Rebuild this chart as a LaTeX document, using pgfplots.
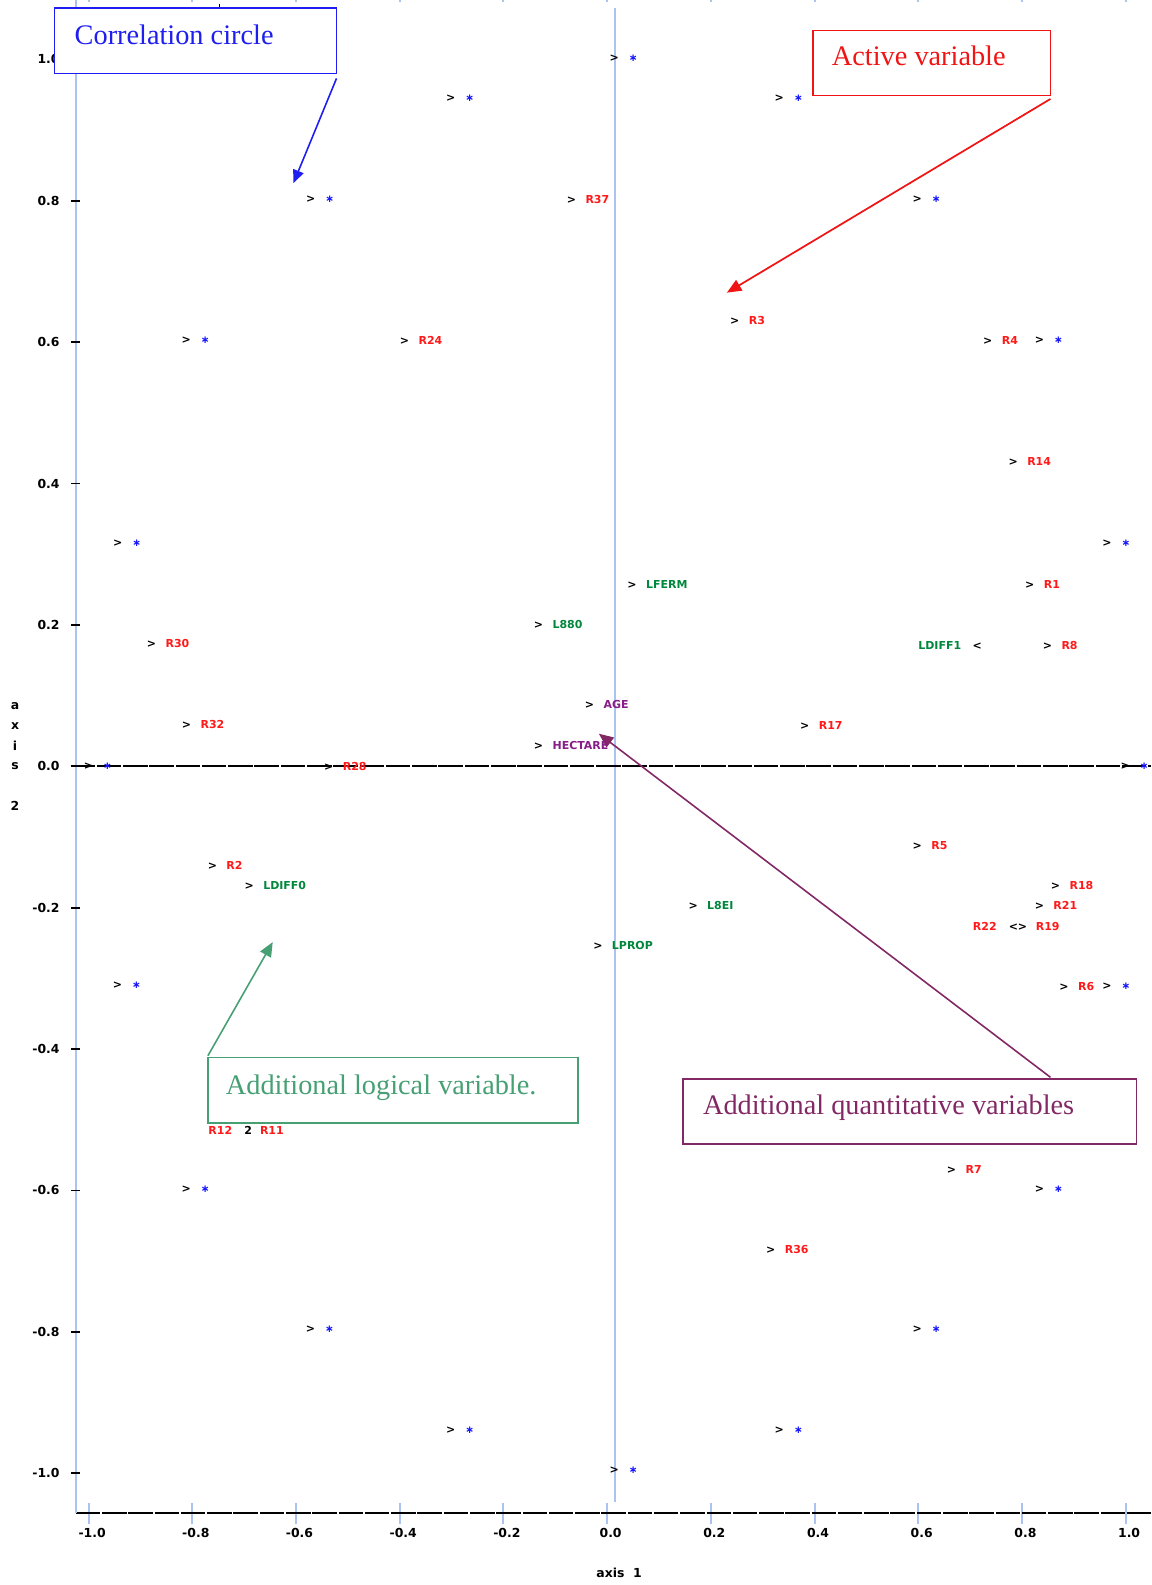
\documentclass[border=0pt]{standalone}
\usepackage{fontspec}
\usepackage{pgfplots}
\pgfplotsset{compat=1.18}
\usetikzlibrary{arrows.meta}
\setmainfont{Liberation Serif}
\newfontfamily\labf{DejaVu Sans}
\newcommand\lab{\labf\bfseries\fontsize{3.8}{4.2}\selectfont}
\newcommand\tickf{\labf\bfseries\fontsize{4.3}{5}\selectfont}
\newcommand\annf{\fontsize{9.8}{11}\selectfont}
\newcommand\cstar{{\fontsize{3.6}{3.6}\selectfont\textcolor{ptblue}{∗}}}
\definecolor{labred}{RGB}{255,25,25}
\definecolor{labgreen}{RGB}{0,135,60}
\definecolor{labpurple}{RGB}{135,30,135}
\definecolor{ptblue}{RGB}{20,20,255}
\definecolor{axblue}{RGB}{170,195,240}
\definecolor{boxblue}{RGB}{30,30,240}
\definecolor{boxred}{RGB}{240,20,20}
\definecolor{boxgreen}{RGB}{70,160,115}
\definecolor{boxpurple}{RGB}{130,40,100}
\pgfplotsset{
  lbl/.style={draw=none, mark=none, point meta=explicit symbolic,
    nodes near coords={\textcolor{black}{>}\hspace{3.3pt}\pgfplotspointmeta},
    every node near coord/.append style={anchor=west, inner sep=0pt, xshift=-1.6pt, font=\lab, text=#1}},
}
\begin{document}
\begin{tikzpicture}
\begin{axis}[
  set layers,
  scale only axis, width=372.4pt, height=523.95pt,
  xmin=-1.025, xmax=1.0495, ymin=-1.0568, ymax=1.084,
  axis lines=left,
  axis line style={-},
  x axis line style={black, line width=0.6pt, dash pattern=on 8.5pt off 0.6pt},
  y axis line style={axblue, line width=0.7pt},
  xtick={-1,-0.8,-0.6,-0.4,-0.2,0,0.2,0.4,0.6,0.8,1},
  xticklabels={-1.0,-0.8,-0.6,-0.4,-0.2,0.0,0.2,0.4,0.6,0.8,1.0},
  ytick={-1,-0.8,-0.6,-0.4,-0.2,0,0.2,0.4,0.6,0.8,1},
  yticklabels={-1.0,-0.8,-0.6,-0.4,-0.2,0.0,0.2,0.4,0.6,0.8,1.0},
  tick align=center, major tick length=7.3pt,
  x tick style={axblue, line width=0.7pt},
  y tick style={draw=none},
  xticklabel style={font=\tickf, inner sep=0pt, anchor=north, yshift=-1.25pt, xshift=1.2pt},
  yticklabel style={font=\tickf, inner sep=0pt, anchor=east, xshift=-1.75pt},
  clip=false,
]
% reference lines
\draw[axblue, line width=0.7pt] (axis cs:0.016,1.073) -- (axis cs:0.016,-1.041);
\draw[black, line width=0.6pt, dash pattern=on 8.5pt off 0.6pt] (axis cs:-1.035,0) -- (axis cs:1.0495,0);
\pgfplotsinvokeforeach{-1,-0.8,-0.6,-0.4,-0.2,0,0.2,0.4,0.6,0.8,1}{
  \draw[black, line width=0.6pt] (axis cs:-1.034,#1) -- (axis cs:-1.017,#1);
  \draw[axblue, line width=0.7pt] (axis cs:#1,1.084) -- (axis cs:#1,1.0805);
}
\draw[black, line width=0.5pt] (axis cs:-0.7475,1.0786) -- (axis cs:-0.7475,1.039);

% correlation circle points
\addplot[draw=none, mark=none, point meta=explicit symbolic,
  nodes near coords={>\hspace{3.5pt}\cstar},
  every node near coord/.append style={anchor=west, inner sep=0pt, xshift=-1.6pt, font=\lab, text=black}]
table[meta=lab] {
x y lab
0.0127 1.002 c
-0.303 0.945 c
0.331 0.945 c
-0.573 0.802 c
0.597 0.802 c
-0.813 0.602 c
0.8325 0.602 c
-0.945 0.316 c
0.963 0.316 c
-1.0015 0.0 c
0.998 0.0 c
-0.9455 -0.310 c
0.963 -0.311 c
-0.813 -0.598 c
0.8325 -0.598 c
-0.5735 -0.797 c
0.597 -0.797 c
-0.303 -0.939 c
0.331 -0.939 c
0.0127 -0.996 c
};

% active variables
\addplot[lbl=labred] table[meta=lab] {
x y lab
-0.070 0.802 R37
0.245 0.631 R3
-0.392 0.602 R24
0.733 0.602 R4
0.782 0.431 R14
0.814 0.257 R1
-0.880 0.173 R30
0.848 0.171 R8
-0.8125 0.0586 R32
0.380 0.057 R17
-0.538 0.0 R28
0.597 -0.1117 R5
-0.7625 -0.140 R2
0.8636 -0.168 R18
0.8325 -0.197 R21
0.880 -0.311 R6
0.663 -0.570 R7
0.3145 -0.6835 R36
};

% additional logical variables
\addplot[lbl=labgreen] table[meta=lab] {
x y lab
0.047 0.257 LFERM
-0.1335 0.200 L880
-0.6915 -0.168 LDIFF0
0.1647 -0.197 L8EI
-0.019 -0.254 LPROP
};

% additional quantitative variables
\addplot[lbl=labpurple] table[meta=lab] {
x y lab
-0.035 0.087 AGE
-0.1335 0.030 HECTARE
};

% special labels
\addplot[draw=none, mark=none,
  nodes near coords={\textcolor{labgreen}{LDIFF1}\hspace{4pt}<},
  every node near coord/.append style={anchor=east, inner sep=0pt, xshift=1.6pt, font=\lab, text=black}]
coordinates {(0.715,0.171)};
\addplot[draw=none, mark=none,
  nodes near coords={\textcolor{labred}{R22}\hspace{4.2pt}<>\hspace{3pt}\textcolor{labred}{R19}},
  every node near coord/.append style={anchor=center, inner sep=0pt, font=\lab, text=black}]
coordinates {(0.789,-0.226)};
\addplot[draw=none, mark=none,
  nodes near coords={\textcolor{labred}{R12}\hspace{4.2pt}2\hspace{2.8pt}\textcolor{labred}{R11}},
  every node near coord/.append style={anchor=center, inner sep=0pt, font=\lab, text=black}]
coordinates {(-0.6964,-0.5145)};

% axis titles
\node[font=\tickf, inner sep=0pt] at (axis cs:0.023,-1.1415) {axis\hspace{3pt}1};
\node[font=\tickf, inner sep=0pt] at (axis cs:-1.142,0.0857) {a};
\node[font=\tickf, inner sep=0pt] at (axis cs:-1.142,0.057) {x};
\node[font=\tickf, inner sep=0pt] at (axis cs:-1.142,0.0286) {i};
\node[font=\tickf, inner sep=0pt] at (axis cs:-1.142,0) {s};
\node[font=\tickf, inner sep=0pt] at (axis cs:-1.142,-0.0566) {2};

% annotation boxes
\draw[boxblue, line width=0.55pt, fill=white] (axis cs:-1.066,1.073) rectangle (axis cs:-0.522,0.980);
\node[anchor=base west, inner sep=0pt, font=\annf, text=boxblue] at (axis cs:-1.028,1.021) {Correlation circle};
\draw[boxblue, line width=0.55pt, -{Triangle[length=4.5pt,width=3.8pt]}] (axis cs:-0.522,0.973) -- (axis cs:-0.605,0.825);

\draw[boxred, line width=0.55pt, fill=white] (axis cs:0.397,1.041) rectangle (axis cs:0.855,0.9486);
\node[anchor=base west, inner sep=0pt, font=\annf, text=boxred] at (axis cs:0.4325,0.991) {Active variable};
\draw[boxred, line width=0.6pt, -{Triangle[length=5pt,width=4.2pt]}] (axis cs:0.855,0.944) -- (axis cs:0.231,0.670);

\draw[boxgreen, line width=0.55pt, fill=white] (axis cs:-0.770,-0.4118) rectangle (axis cs:-0.0566,-0.5048);
\node[anchor=base west, inner sep=0pt, font=\annf, text=boxgreen] at (axis cs:-0.7363,-0.464) {Additional logical variable.};
\draw[boxgreen, line width=0.55pt, -{Triangle[length=5pt,width=4.2pt]}] (axis cs:-0.770,-0.4095) -- (axis cs:-0.645,-0.2487);

\draw[boxpurple, line width=0.55pt, fill=white] (axis cs:0.146,-0.442) rectangle (axis cs:1.021,-0.5346);
\node[anchor=base west, inner sep=0pt, font=\annf, text=boxpurple] at (axis cs:0.184,-0.492) {Additional quantitative variables};
\draw[boxpurple, line width=0.55pt, -{Triangle[length=5pt,width=4.2pt]}] (axis cs:0.855,-0.440) -- (axis cs:-0.016,0.046);

\coordinate (BL) at (axis cs:-1.171,-1.1582);
\coordinate (TR) at (axis cs:1.0495,1.084);
\end{axis}
\pgfresetboundingbox
\path[use as bounding box] (BL) rectangle (TR);
\end{tikzpicture}
\end{document}
